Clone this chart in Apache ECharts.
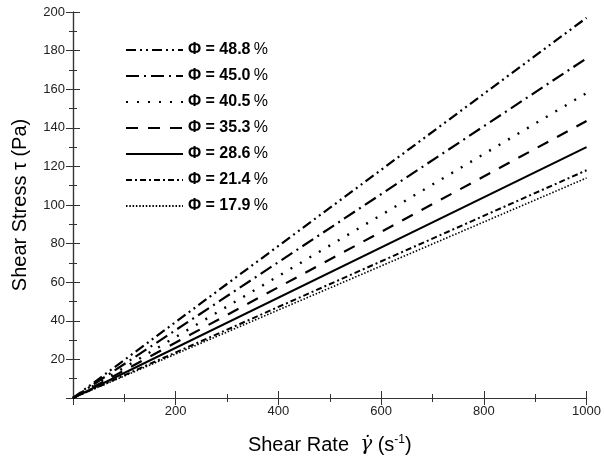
<!DOCTYPE html>
<html><head><meta charset="utf-8">
<script src="https://cdn.jsdelivr.net/npm/echarts@6/dist/echarts.min.js"></script>
<style>html,body{margin:0;padding:0;background:#fff}#c{width:604px;height:470px}</style>
</head><body><div id="c"></div>
<script>
const phiLabels = ['48.8', '45.0', '40.5', '35.3', '28.6', '21.4', '17.9'];
const shearRates = [0, 1000];
const stress488 = [0, 197];
const stress450 = [0, 176];
const stress405 = [0, 158];
const stress353 = [0, 143.5];
const stress286 = [0, 130];
const stress214 = [0, 118];
const stress179 = [0, 114];
const xTicks = [200, 400, 600, 800, 1000];
const yTicks = [20, 40, 60, 80, 100, 120, 140, 160, 180, 200];

const allStress = [stress488, stress450, stress405, stress353, stress286, stress214, stress179];
const dashes = [[10,4,2,4,2,4],[13,5,2,5],[2,9],[12,10],'solid',[6,3,2,3],[1.5,1.8]];
const widths = [2.2,2.2,2.4,2.2,2,2,1.6];

const font = '"Liberation Sans", Arial, sans-serif';
const series = allStress.map((s, i) => ({
  name: phiLabels[i],
  type: 'line',
  data: shearRates.map((x, j) => [x, s[j]]),
  symbol: 'none',
  lineStyle: { color: '#000', width: widths[i], type: dashes[i] },
  itemStyle: { color: '#000' },
  silent: true,
  animation: false
}));

function fmt(ticks){ return v => ticks.indexOf(v) >= 0 ? String(v) : ''; }

const chart = echarts.init(document.getElementById('c'), null, {renderer:'canvas'});
chart.setOption({
  animation: false,
  backgroundColor: '#fff',
  grid: { left: 73, right: 16, top: 12, bottom: 72 },
  legend: {
    data: phiLabels,
    orient: 'vertical',
    left: 120, top: 37,
    itemWidth: 57, itemHeight: 12, itemGap: 10,
    itemStyle: { opacity: 0 },
    textStyle: {
      fontFamily: font,
      rich: {
        b: { fontFamily: font, fontSize: 16, fontWeight: 'bold', color: '#000' },
        r: { fontFamily: font, fontSize: 16, color: '#000' }
      }
    },
    formatter: n => '{b|\u03A6 = ' + n + '} {r|%}'
  },
  xAxis: [{
    type: 'value', min: 0, max: 1000, interval: 200, position: 'bottom',
    axisLine: { show: true, lineStyle: { color: '#333', width: 1.2 } },
    axisTick: { show: true, inside: true, length: 7, lineStyle: { color: '#333' } },
    minorTick: { show: true, splitNumber: 2, length: 4, lineStyle: { color: '#333' } },
    splitLine: { show: false },
    axisLabel: { formatter: fmt(xTicks), color: '#222', fontFamily: font, fontSize: 13, margin: 7 },
    name: '{t|Shear Rate  }{g|\u03B3\u0307}{t| (s}{s|-1}{t|)}',
    nameLocation: 'middle', nameGap: 36,
    nameTextStyle: {
      rich: {
        t: { fontFamily: font, fontSize: 20, color: '#000' },
        g: { fontFamily: '"DejaVu Serif", serif', fontStyle: 'italic', fontSize: 20, color: '#000' },
        s: { fontFamily: font, fontSize: 12, color: '#000', verticalAlign: 'top', padding: [0,0,10,0] }
      }
    }
  }, {
    type: 'value', min: 0, max: 1000, interval: 200, position: 'top',
    axisLine: { show: true, lineStyle: { color: '#333', width: 1.2 } },
    axisTick: { show: true, inside: true, length: 7, lineStyle: { color: '#333' } },
    minorTick: { show: true, splitNumber: 2, length: 4, lineStyle: { color: '#333' } },
    splitLine: { show: false }, axisLabel: { show: false }
  }],
  yAxis: [{
    type: 'value', min: 0, max: 200, interval: 20, position: 'left',
    axisLine: { show: true, lineStyle: { color: '#333', width: 1.2 } },
    axisTick: { show: true, inside: true, length: 7, lineStyle: { color: '#333' } },
    minorTick: { show: true, splitNumber: 2, length: 4, lineStyle: { color: '#333' } },
    splitLine: { show: false },
    axisLabel: { formatter: fmt(yTicks), color: '#222', fontFamily: font, fontSize: 13, margin: 8 },
    name: 'Shear Stress \u03C4 (Pa)', nameLocation: 'middle', nameGap: 43,
    nameTextStyle: { fontFamily: font, fontSize: 20, color: '#000' }
  }, {
    type: 'value', min: 0, max: 200, interval: 20, position: 'right',
    axisLine: { show: true, lineStyle: { color: '#333', width: 1.2 } },
    axisTick: { show: true, inside: true, length: 7, lineStyle: { color: '#333' } },
    minorTick: { show: true, splitNumber: 2, length: 4, lineStyle: { color: '#333' } },
    splitLine: { show: false }, axisLabel: { show: false }
  }],
  series: series
});
</script></body></html>
